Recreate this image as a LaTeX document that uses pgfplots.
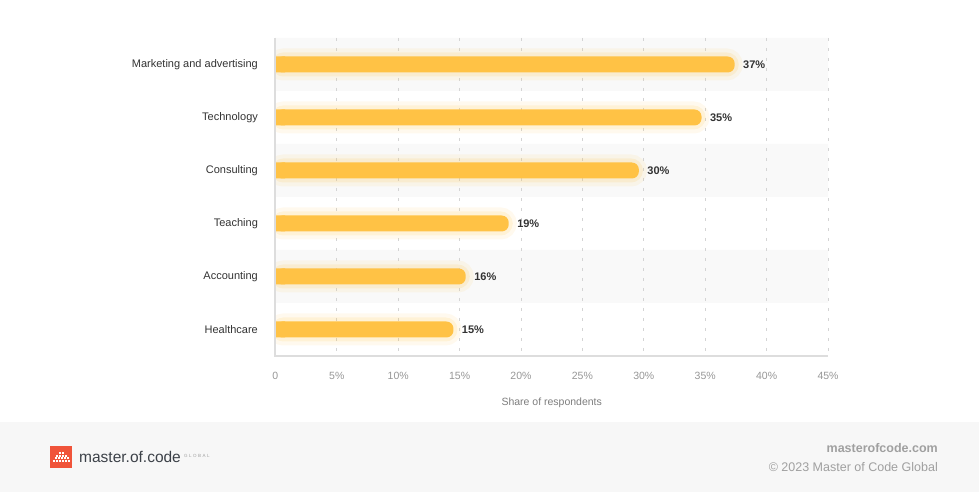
\documentclass[border=0pt]{standalone}
\usepackage{fontspec}
\setmainfont{Liberation Sans}
\usepackage{pgfplots}
\pgfplotsset{compat=1.18}
\usepackage{pgfplotstable}
\definecolor{barc}{RGB}{255,194,69}
\definecolor{band}{RGB}{249,249,249}
\definecolor{gridc}{RGB}{212,212,212}
\definecolor{axisc}{RGB}{221,221,221}
\definecolor{labc}{RGB}{51,51,51}
\definecolor{tickc}{RGB}{150,150,150}
\definecolor{titc}{RGB}{125,125,125}
\definecolor{foot}{RGB}{247,247,247}
\definecolor{logored}{RGB}{240,84,58}
\definecolor{logotext}{RGB}{60,65,72}
\definecolor{foottext}{RGB}{160,160,160}

\pgfplotstableread{
row value label
1 37.4 37
2 34.7 35
3 29.6 30
4 19.0 19
5 15.5 16
6 14.5 15
}\data

\begin{document}
\begin{tikzpicture}
\path (0,0) rectangle (979pt,492pt);
% footer band
\fill[foot] (0,0) rectangle (979pt,70pt);
\begin{axis}[
  at={(275.4pt,136pt)}, anchor=south west,
  scale only axis, width=552.6pt, height=318pt,
  xmin=0, xmax=45, ymin=0.5, ymax=6.5, y dir=reverse,
  set layers, clip mode=individual,
  axis line style={draw=none},
  xtick={0,5,...,45},
  xticklabels={0,5\%,10\%,15\%,20\%,25\%,30\%,35\%,40\%,45\%},
  ytick={1,...,6},
  yticklabels={Marketing and advertising,Technology,Consulting,Teaching,Accounting,Healthcare},
  major tick length=0pt,
  xmajorgrids,
  major grid style={gridc, dash pattern=on 3pt off 7pt, line width=1pt},
  xticklabel style={tickc, yshift=-13pt, font=\fontsize{10.5}{12}\selectfont},
  yticklabel style={labc, xshift=-14pt, font=\fontsize{11}{13}\selectfont},
  xlabel={Share of respondents},
  xlabel style={titc, font=\fontsize{10.5}{12}\selectfont, yshift=-11pt},
  xbar, bar width=16pt,
]
% background bands
\addplot[on layer=axis background, bar shift=0pt, draw=none, fill=band, bar width=53pt] coordinates {(45,1) (45,3) (45,5)};
% glow
\addplot[bar shift=0pt, draw=barc, draw opacity=0.09, fill=none, line width=16pt, rounded corners=8pt] table[x=value,y=row]{\data};
\addplot[bar shift=0pt, draw=barc, draw opacity=0.14, fill=none, line width=8pt, rounded corners=8pt] table[x=value,y=row]{\data};
% bars
\addplot[bar shift=0pt, draw=none, fill=barc, rounded corners=7pt,
  nodes near coords={\pgfplotspointmeta\%},
  point meta=explicit symbolic,
  every node near coord/.append style={labc, anchor=west, xshift=5pt, font=\bfseries\fontsize{11}{13}\selectfont}]
  table[x=value,y=row,meta=label]{\data};
% square off the left ends at the axis
\addplot[bar shift=0pt, draw=none, fill=barc] coordinates {(0.8,1) (0.8,2) (0.8,3) (0.8,4) (0.8,5) (0.8,6)};
\draw[axisc, line width=2pt] (axis cs:0,0.5) -- (axis cs:0,6.5) -- (axis cs:45,6.5);
\end{axis}
% logo
\fill[logored] (50pt,24pt) rectangle (72pt,46pt);
\foreach \x in {53,56,59,62,65,68}{\fill[white] (\x pt,30pt) rectangle ++(2pt,2pt);}
\foreach \x in {54.5,57.5,60.5,63.5,66.5}{\fill[white] (\x pt,32.5pt) rectangle ++(2pt,2pt);}
\foreach \x in {56,59,62,65}{\fill[white] (\x pt,35pt) rectangle ++(2pt,2pt);}
\foreach \x in {59,62}{\fill[white] (\x pt,37.5pt) rectangle ++(2pt,2pt);}
\node[anchor=west, inner sep=0pt, logotext, font=\fontsize{15.5}{16}\selectfont] at (79pt,35pt) {master.of.code};
\node[anchor=west, inner sep=0pt, foottext, font=\fontsize{4.5}{5}\selectfont] at (184pt,36pt) {G\,\,L\,\,O\,\,B\,\,A\,\,L};
\node[anchor=east, inner sep=0pt, foottext, font=\bfseries\fontsize{12.5}{14}\selectfont] at (938pt,44pt) {masterofcode.com};
\node[anchor=east, inner sep=0pt, foottext, font=\fontsize{12.5}{14}\selectfont] at (938pt,25pt) {\textcopyright{} 2023 Master of Code Global};
\end{tikzpicture}
\end{document}
